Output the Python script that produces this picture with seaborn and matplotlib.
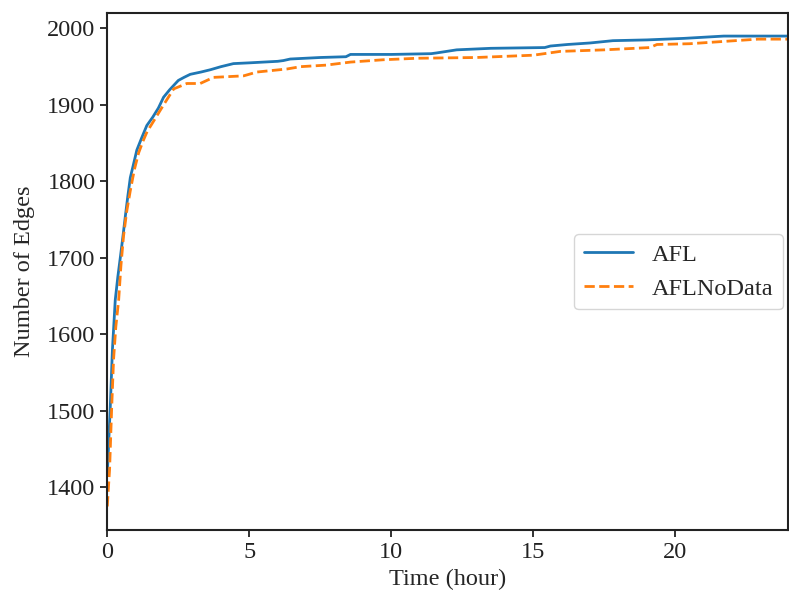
import pandas as pd
import matplotlib.pyplot as plt
import seaborn as sns

# values (time in hours, number of edges)
afl_time = [0.0, 0.05, 0.1, 0.18, 0.28, 0.37, 0.46, 0.55, 0.63, 0.72, 0.81, 0.92, 1.04, 1.2,
            1.39, 1.6, 1.8, 1.98, 2.2, 2.5, 2.7, 2.92, 3.3, 3.63, 4.0, 4.44, 5.0, 5.5,
            6.0, 6.2, 6.44, 7.5, 8.4, 8.56, 10.0, 11.4, 11.6, 12.3, 13.5, 15.4, 15.6, 16.2,
            17.0, 17.8, 19.0, 20.3, 21.7, 23.0, 24.0]
afl_edges = [1416, 1460, 1501, 1580, 1645, 1675, 1701, 1728, 1753, 1780, 1805, 1822, 1841, 1856,
             1873, 1884, 1896, 1910, 1920, 1932, 1936, 1940, 1943, 1946, 1950, 1954, 1955, 1956,
             1957, 1958, 1960, 1962, 1963, 1966, 1966, 1967, 1968, 1972, 1974, 1975, 1977, 1979,
             1981, 1984, 1985, 1987, 1990, 1990, 1990]

nodata_time = [0.0, 0.04, 0.08, 0.15, 0.22, 0.3, 0.40, 0.48, 0.57, 0.68, 0.81, 0.95, 1.1, 1.25,
               1.4, 1.65, 1.93, 2.15, 2.34, 2.8, 3.27, 3.74, 4.8, 5.27, 6.33, 6.8, 7.7,
               8.56, 9.7, 10.9, 13.0, 15.0, 15.95, 17.5, 19.1, 19.35, 20.5, 21.7, 22.9, 24.0]
nodata_edges = [1375, 1400, 1423, 1500, 1567, 1610, 1645, 1690, 1728, 1760, 1788, 1815, 1837, 1852,
                1865, 1880, 1897, 1910, 1921, 1928, 1928, 1936, 1938, 1943, 1947, 1950, 1952,
                1956, 1959, 1961, 1962, 1965, 1970, 1972, 1975, 1979, 1980, 1983, 1986, 1986]

df = pd.concat([
    pd.DataFrame({"Time": afl_time, "Edges": afl_edges, "Fuzzer": "AFL"}),
    pd.DataFrame({"Time": nodata_time, "Edges": nodata_edges, "Fuzzer": "AFLNoData"}),
])

sns.set_style("ticks")
plt.rcParams['font.family'] = ['Liberation Serif', 'DejaVu Serif']

fig, ax = plt.subplots(figsize=(7.89, 5.97), dpi=100)
sns.lineplot(data=df, x="Time", y="Edges", hue="Fuzzer", style="Fuzzer",
             palette=["#1f77b4", "#ff7f0e"], dashes=[(None, None), (3.7, 1.6)],
             linewidth=2.0, ax=ax)

ax.set_xlim(0, 23.97)
ax.set_ylim(1344, 2020)
ax.set_xlabel("Time (hour)", fontsize=17.5, labelpad=4)
ax.set_ylabel("Number of Edges", fontsize=17.5, labelpad=9)
ax.tick_params(labelsize=17.5, length=5, width=1.3, colors="#222222", labelcolor="#222222")
for s in ax.spines.values():
    s.set_linewidth(1.5)
    s.set_color("#222222")

leg = ax.legend(loc="center right", fontsize=17.5, title=None, borderaxespad=0.2)

plt.subplots_adjust(left=0.136, right=0.999, top=0.978, bottom=0.112)
plt.savefig("out.png", dpi=100)
